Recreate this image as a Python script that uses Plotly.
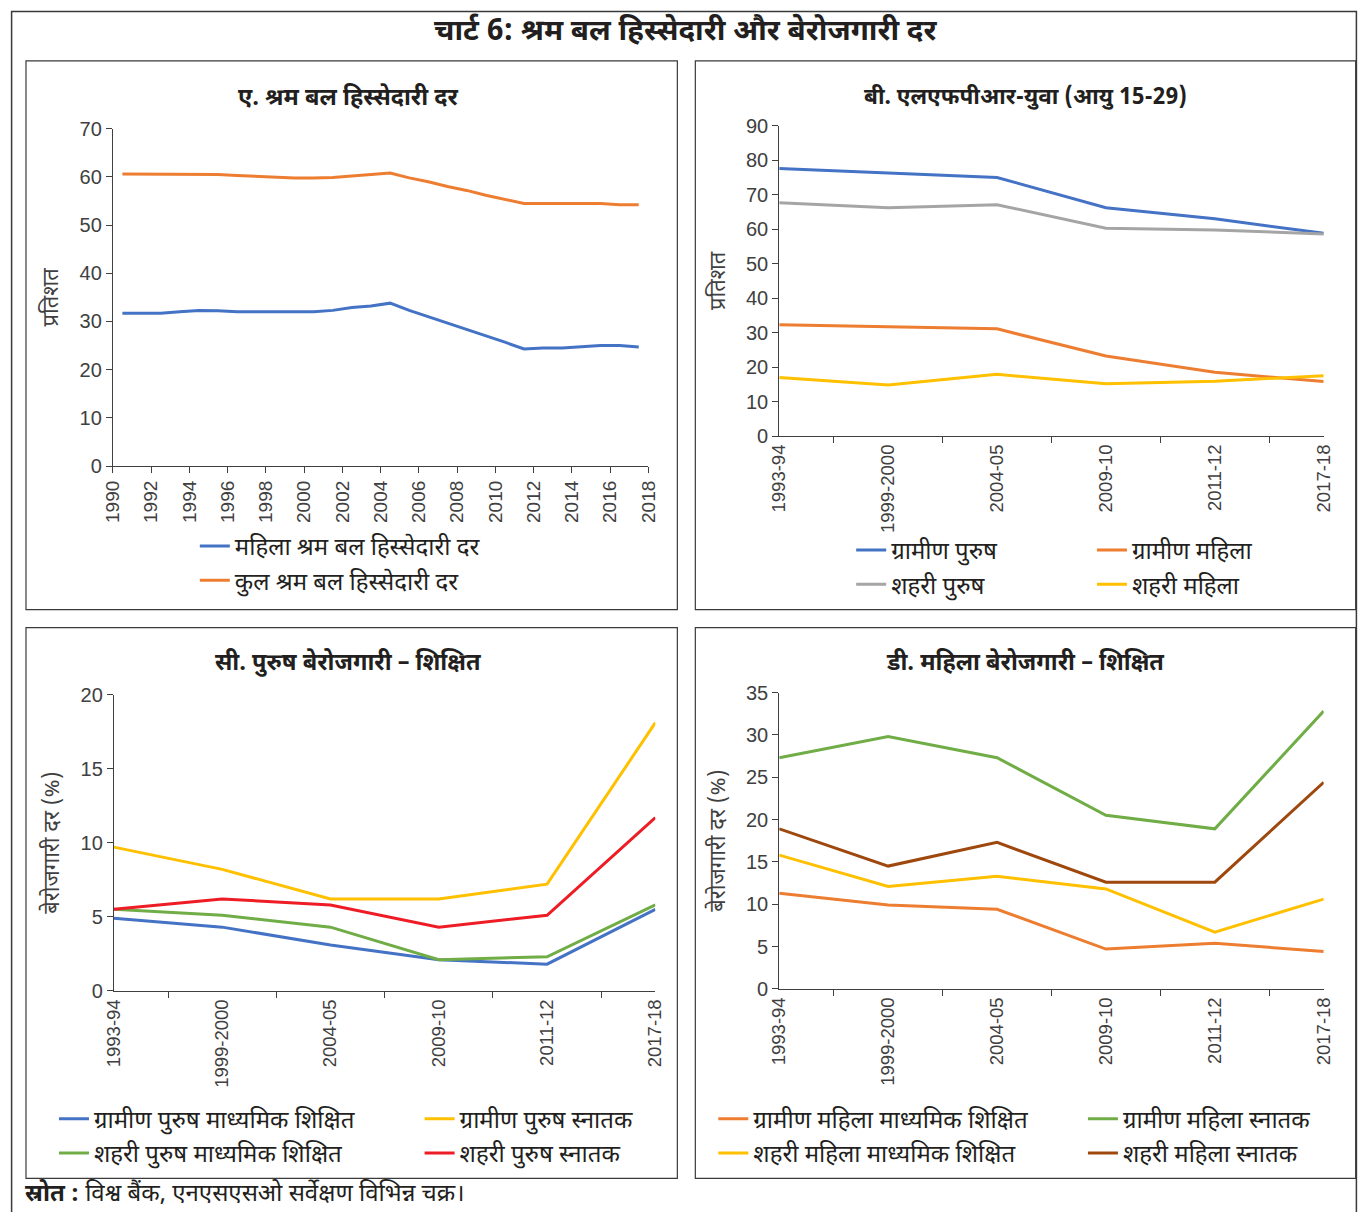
import plotly.graph_objects as go

FW, FH = 1367, 1212
# layout positions below are given in final picture pixels; the page is
# shown with a 10 px border and shrunk slightly, so convert back here
OX, OY = 10, 10
SX, SY = 0.9856, 0.984

# ---------- data ----------
years_a = list(range(1990, 2018))
lfpr_female = [31.7, 31.7, 31.7, 32.0, 32.3, 32.2, 32.0, 32.0, 32.0, 32.0,
               32.0, 32.3, 32.9, 33.2, 33.8, 32.3, 31.0, 29.7, 28.3, 27.0,
               25.7, 24.3, 24.5, 24.5, 24.7, 25.0, 25.0, 24.7]
lfpr_total = [60.6, 60.6, 60.6, 60.6, 60.6, 60.5, 60.3, 60.1, 60.0, 59.8,
              59.8, 59.9, 60.2, 60.5, 60.8, 59.8, 59.0, 58.0, 57.2, 56.2,
              55.3, 54.5, 54.5, 54.5, 54.5, 54.5, 54.2, 54.2]

rounds = ["1993-94", "1999-2000", "2004-05", "2009-10", "2011-12", "2017-18"]

youth_rural_male = [77.6, 76.2, 75.0, 66.2, 63.0, 58.8]
youth_rural_female = [32.3, 31.7, 31.1, 23.2, 18.5, 15.8]
youth_urban_male = [67.7, 66.2, 67.1, 60.3, 59.8, 58.6]
youth_urban_female = [17.0, 14.8, 17.9, 15.2, 15.9, 17.5]

male_rural_secondary = [4.9, 4.3, 3.1, 2.1, 1.8, 5.5]
male_rural_graduate = [9.7, 8.2, 6.2, 6.2, 7.2, 18.1]
male_urban_secondary = [5.5, 5.1, 4.3, 2.1, 2.3, 5.8]
male_urban_graduate = [5.5, 6.2, 5.8, 4.3, 5.1, 11.7]

female_rural_secondary = [11.3, 9.9, 9.4, 4.7, 5.4, 4.4]
female_rural_graduate = [27.3, 29.8, 27.3, 20.5, 18.9, 32.8]
female_urban_secondary = [15.8, 12.1, 13.3, 11.8, 6.7, 10.6]
female_urban_graduate = [18.9, 14.5, 17.3, 12.6, 12.6, 24.4]

# ---------- styling ----------
BLUE, ORANGE, GREY, YELLOW = "#4472C4", "#ED7D31", "#A5A5A5", "#FFC000"
GREEN, RED, BROWN = "#70AD47", "#EE1C25", "#9E480E"
DEV = "Noto Sans Devanagari, Lohit Devanagari, Noto Sans, sans-serif"
NUM = "Liberation Sans Narrow, Liberation Sans, sans-serif"
TXT = "#231F20"
AXC = "#404040"
LW = 3


def fx(px):
    return (px - OX) / SX / FW


def fy(py):
    return 1 - (py - OY) / SY / FH


fig = go.Figure()


def add_line(x, y, name, color, xa, ya, legend):
    fig.add_trace(go.Scatter(
        x=x, y=y, name=name, mode="lines",
        line=dict(color=color, width=LW),
        xaxis=xa, yaxis=ya, legend=legend, hoverinfo="skip"))


# panel A: annual values placed at mid-year
mid_year = [f"{y}-07-01" for y in years_a]
add_line(mid_year, lfpr_female, "महिला श्रम बल हिस्सेदारी दर", BLUE, "x", "y", "legend")
add_line(mid_year, lfpr_total, "कुल श्रम बल हिस्सेदारी दर", ORANGE, "x", "y", "legend")

# panel B
add_line(rounds, youth_rural_male, "ग्रामीण पुरुष", BLUE, "x2", "y2", "legend2")
add_line(rounds, youth_urban_male, "शहरी पुरुष", GREY, "x2", "y2", "legend2")
add_line(rounds, youth_rural_female, "ग्रामीण महिला", ORANGE, "x2", "y2", "legend3")
add_line(rounds, youth_urban_female, "शहरी महिला", YELLOW, "x2", "y2", "legend3")

# panel C
add_line(rounds, male_rural_secondary, "ग्रामीण पुरुष माध्यमिक शिक्षित", BLUE, "x3", "y3", "legend4")
add_line(rounds, male_urban_secondary, "शहरी पुरुष माध्यमिक शिक्षित", GREEN, "x3", "y3", "legend4")
add_line(rounds, male_rural_graduate, "ग्रामीण पुरुष स्नातक", YELLOW, "x3", "y3", "legend5")
add_line(rounds, male_urban_graduate, "शहरी पुरुष स्नातक", RED, "x3", "y3", "legend5")

# panel D
add_line(rounds, female_rural_secondary, "ग्रामीण महिला माध्यमिक शिक्षित", ORANGE, "x4", "y4", "legend6")
add_line(rounds, female_urban_secondary, "शहरी महिला माध्यमिक शिक्षित", YELLOW, "x4", "y4", "legend6")
add_line(rounds, female_rural_graduate, "ग्रामीण महिला स्नातक", GREEN, "x4", "y4", "legend7")
add_line(rounds, female_urban_graduate, "शहरी महिला स्नातक", BROWN, "x4", "y4", "legend7")

axis_common = dict(showline=True, linecolor=AXC, linewidth=1.2, ticks="outside",
                   ticklen=6, tickcolor=AXC, tickwidth=1.2, showgrid=False,
                   zeroline=False, tickfont=dict(family=NUM, size=20, color=AXC))

cat_x = dict(axis_common, type="category", tickson="boundaries", tickangle=-90,
             tickfont=dict(family=NUM, size=18.5, color=AXC))


def ytitle(text):
    return dict(text=text, font=dict(family=DEV, size=22, color=AXC), standoff=14)


layout = dict(
    width=FW, height=FH, margin=dict(l=0, r=0, t=0, b=0),
    paper_bgcolor="white", plot_bgcolor="white",
    showlegend=True,
    xaxis=dict(axis_common, type="date", domain=[fx(112), fx(648)],
               range=["1990-01-01", "2018-01-01"], dtick="M24", tick0="1990-01-01",
               tickformat="%Y", tickangle=-90, anchor="y",
               tickfont=dict(family=NUM, size=19, color=AXC)),
    yaxis=dict(axis_common, domain=[fy(466), fy(128)], range=[0, 70], dtick=10,
               anchor="x", title=ytitle("प्रतिशत")),
    xaxis2=dict(cat_x, domain=[fx(779), fx(1324)], anchor="y2"),
    yaxis2=dict(axis_common, domain=[fy(436), fy(125)], range=[0, 90], dtick=10,
                anchor="x2", title=ytitle("प्रतिशत")),
    xaxis3=dict(cat_x, domain=[fx(113), fx(655)], anchor="y3"),
    yaxis3=dict(axis_common, domain=[fy(992), fy(695)], range=[0, 20], dtick=5,
                anchor="x3", title=ytitle("बेरोजगारी दर (%)")),
    xaxis4=dict(cat_x, domain=[fx(779), fx(1324)], anchor="y4"),
    yaxis4=dict(axis_common, domain=[fy(990), fy(693)], range=[0, 35], dtick=5,
                anchor="x4", title=ytitle("बेरोजगारी दर (%)")),
)

leg_font = dict(family=DEV, size=24, color=TXT)


def legend_at(px, py):
    return dict(x=fx(px), y=fy(py), xanchor="left", yanchor="top",
                orientation="v", font=leg_font, bgcolor="rgba(0,0,0,0)",
                traceorder="normal", itemclick=False, itemdoubleclick=False,
                tracegroupgap=0)


layout["legend"] = legend_at(194, 524)
layout["legend2"] = legend_at(851, 528)
layout["legend3"] = legend_at(1092, 528)
layout["legend4"] = legend_at(53, 1098)
layout["legend5"] = legend_at(419, 1098)
layout["legend6"] = legend_at(713, 1098)
layout["legend7"] = legend_at(1083, 1098)

fig.update_layout(**layout)

# frames around the whole chart and each panel
shapes = [dict(type="rect", xref="paper", yref="paper",
               x0=0.6 / FW, x1=1 - 0.6 / FW, y0=-0.05, y1=1 - 0.6 / FH,
               line=dict(color="#3A3A3A", width=1.5))]
for (l, t, r, b) in [(25, 60, 677, 610), (695, 60, 1356, 610),
                     (25, 628, 677, 1180), (695, 628, 1356, 1180)]:
    shapes.append(dict(type="rect", xref="paper", yref="paper",
                       x0=fx(l), x1=fx(r), y0=fy(b), y1=fy(t),
                       line=dict(color="#3A3A3A", width=1.2)))
fig.update_layout(shapes=shapes)

annotations = [
    dict(text="<b>चार्ट 6: श्रम बल हिस्सेदारी और बेरोजगारी दर</b>", x=fx(685), y=fy(32),
         font=dict(family=DEV, size=29.5, color=TXT)),
    dict(text="<b>ए. श्रम बल हिस्सेदारी दर</b>", x=fx(347), y=fy(98),
         font=dict(family=DEV, size=23.5, color=TXT)),
    dict(text="<b>बी. एलएफपीआर-युवा (आयु 15-29)</b>", x=fx(1025), y=fy(98),
         font=dict(family=DEV, size=22.5, color=TXT)),
    dict(text="<b>सी. पुरुष बेरोजगारी – शिक्षित</b>", x=fx(347), y=fy(664),
         font=dict(family=DEV, size=23.5, color=TXT)),
    dict(text="<b>डी. महिला बेरोजगारी – शिक्षित</b>", x=fx(1025), y=fy(664),
         font=dict(family=DEV, size=23.5, color=TXT)),
    dict(text="<b>स्रोत :</b> विश्व बैंक, एनएसएसओ सर्वेक्षण विभिन्न चक्र।", x=fx(22), y=fy(1197),
         xanchor="left", font=dict(family=DEV, size=24, color=TXT)),
]
for a in annotations:
    a.setdefault("xanchor", "center")
    a.update(xref="paper", yref="paper", yanchor="middle", showarrow=False)
fig.update_layout(annotations=annotations)

fig.write_html("out.html")
